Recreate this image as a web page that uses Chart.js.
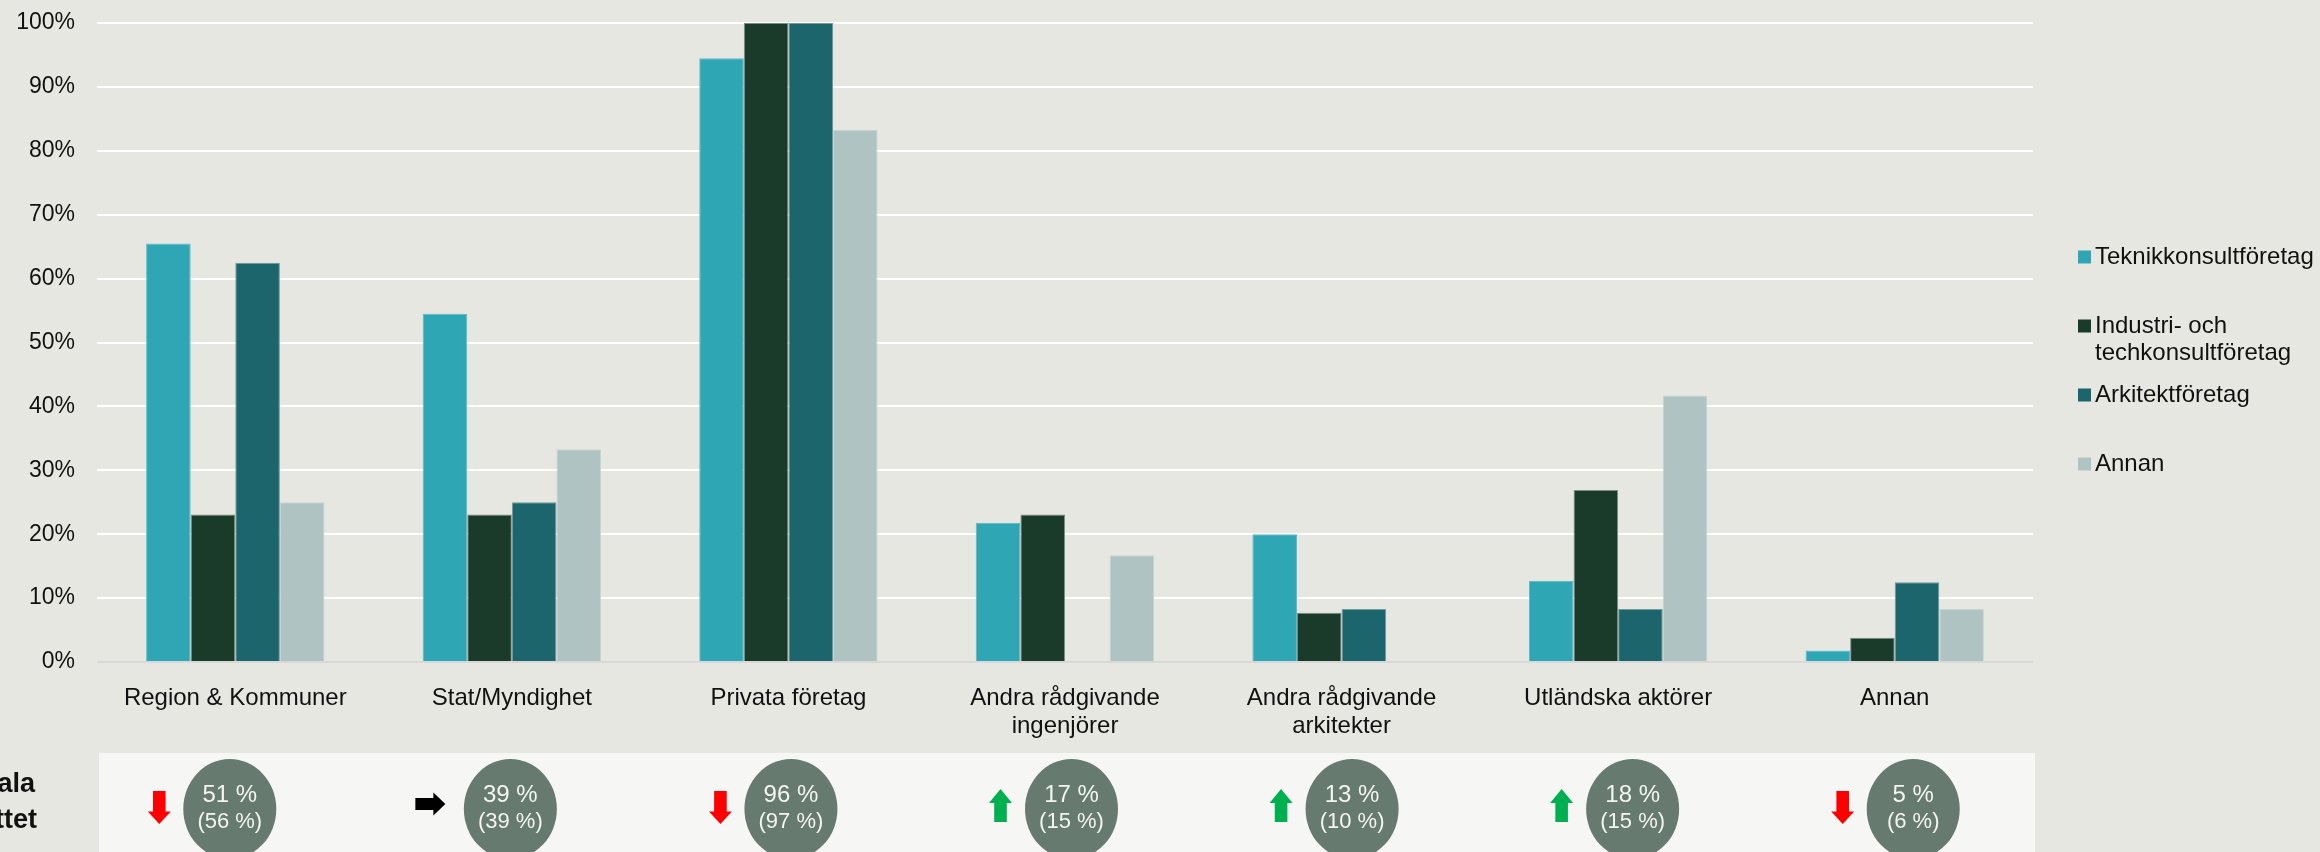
<!DOCTYPE html>
<html>
<head>
<meta charset="utf-8">
<script src="https://cdn.jsdelivr.net/npm/chart.js@4/dist/chart.umd.min.js"></script>
<style>
  html, body { margin: 0; padding: 0; background: #e7e7e2; }
  #wrap { width: 2320px; height: 852px; position: relative; }
</style>
</head>
<body>
<div id="wrap"><canvas id="chart"></canvas></div>
<script>
// Kategorier och värden (andel i procent)
const categories = ['Region & Kommuner', 'Stat/Myndighet', 'Privata företag',
    ['Andra rådgivande', 'ingenjörer'], ['Andra rådgivande', 'arkitekter'],
    'Utländska aktörer', 'Annan'];
const teknikkonsult = [65.5, 54.5, 94.5, 21.8, 20.0, 12.7, 1.8];
const industri = [23.1, 23.1, 100, 23.1, 7.7, 26.9, 3.8];
const arkitekt = [62.5, 25.0, 100, 0, 8.3, 8.3, 12.5];
const annan = [25.0, 33.3, 83.3, 16.7, 0, 41.7, 8.3];

const seriesNames = ['Teknikkonsultföretag', 'Industri- och techkonsultföretag', 'Arkitektföretag', 'Annan'];
const legendLines = [['Teknikkonsultföretag'], ['Industri- och', 'techkonsultföretag'], ['Arkitektföretag'], ['Annan']];
const seriesColors = ['#2ea6b4', '#1a3b29', '#1d656c', '#b0c3c3'];

// Totalt (förra året inom parentes)
const totalNow = [51, 39, 96, 17, 13, 18, 5];
const totalPrev = [56, 39, 97, 15, 10, 15, 6];
const trend = ['down', 'flat', 'down', 'up', 'up', 'up', 'down'];
const panelText = ['ala', 'ttet'];

const yTicks = [0, 10, 20, 30, 40, 50, 60, 70, 80, 90, 100];

const FONT = '"Liberation Sans", Arial, sans-serif';

// Bakgrund
const bgPlugin = {
    id: 'bg',
    beforeDraw(chart) {
        const ctx = chart.ctx;
        ctx.save();
        ctx.fillStyle = '#e7e7e2';
        ctx.fillRect(0, 0, chart.width, chart.height);
        ctx.restore();
    }
};

// Egen legend till höger
const legendPlugin = {
    id: 'sideLegend',
    afterDraw(chart) {
        const ctx = chart.ctx;
        const area = chart.chartArea;
        const x0 = area.right + 45;
        const y0 = area.top + 234;
        ctx.save();
        ctx.font = '24px ' + FONT;
        ctx.textBaseline = 'middle';
        ctx.textAlign = 'left';
        legendLines.forEach((lines, i) => {
            const y = y0 + i * 69;
            ctx.fillStyle = seriesColors[i];
            ctx.fillRect(x0, y - 6.5, 13, 13);
            ctx.fillStyle = '#111';
            lines.forEach((line, j) => {
                ctx.fillText(line, x0 + 17, y + j * 27);
            });
        });
        ctx.restore();
    }
};

function drawArrow(ctx, kind, cx, cy) {
    ctx.beginPath();
    if (kind === 'down') {
        ctx.fillStyle = '#ff0000';
        ctx.moveTo(cx - 6.3, cy - 16.5);
        ctx.lineTo(cx + 6.3, cy - 16.5);
        ctx.lineTo(cx + 6.3, cy + 4);
        ctx.lineTo(cx + 11.5, cy + 4);
        ctx.lineTo(cx, cy + 16.5);
        ctx.lineTo(cx - 11.5, cy + 4);
        ctx.lineTo(cx - 6.3, cy + 4);
    } else if (kind === 'up') {
        ctx.fillStyle = '#00b050';
        ctx.moveTo(cx - 6.3, cy + 16.5);
        ctx.lineTo(cx + 6.3, cy + 16.5);
        ctx.lineTo(cx + 6.3, cy - 2.5);
        ctx.lineTo(cx + 11.5, cy - 2.5);
        ctx.lineTo(cx, cy - 16.5);
        ctx.lineTo(cx - 11.5, cy - 2.5);
        ctx.lineTo(cx - 6.3, cy - 2.5);
    } else {
        ctx.fillStyle = '#000000';
        ctx.moveTo(cx - 15, cy - 6);
        ctx.lineTo(cx + 3, cy - 6);
        ctx.lineTo(cx + 3, cy - 11.5);
        ctx.lineTo(cx + 15, cy);
        ctx.lineTo(cx + 3, cy + 11.5);
        ctx.lineTo(cx + 3, cy + 6);
        ctx.lineTo(cx - 15, cy + 6);
    }
    ctx.closePath();
    ctx.fill();
}

// Panel med totalsiffror under diagrammet
const panelPlugin = {
    id: 'totals',
    afterDraw(chart) {
        const ctx = chart.ctx;
        const area = chart.chartArea;
        const xs = chart.scales.x;
        const top = 753;
        ctx.save();
        ctx.fillStyle = '#f6f6f4';
        ctx.fillRect(area.left + 2, top, area.right - area.left, chart.height - top);

        ctx.fillStyle = '#111';
        ctx.font = 'bold 27px ' + FONT;
        ctx.textAlign = 'right';
        ctx.textBaseline = 'middle';
        ctx.fillText(panelText[0], 35, 785);
        ctx.fillText(panelText[1], 37, 821);

        totalNow.forEach((v, i) => {
            const cx = xs.getPixelForValue(i) - 5.5 + 4 * i;
            const cy = 809;
            ctx.fillStyle = '#667a70';
            ctx.beginPath();
            ctx.ellipse(cx, cy, 46.5, 50, 0, 0, Math.PI * 2);
            ctx.fill();
            ctx.fillStyle = '#f4f4f0';
            ctx.textAlign = 'center';
            ctx.font = '24px ' + FONT;
            ctx.fillText(v + ' %', cx, 795);
            ctx.font = '22px ' + FONT;
            ctx.fillText('(' + totalPrev[i] + ' %)', cx, 822);
            const t = trend[i];
            if (t === 'flat') drawArrow(ctx, t, cx - 80, 804);
            else if (t === 'up') drawArrow(ctx, t, cx - 71, 805.5);
            else drawArrow(ctx, t, cx - 70.5, 807.5);
        });
        ctx.restore();
    }
};

const datasetValues = [teknikkonsult, industri, arkitekt, annan];
const borderColors = ['#5cbac5', '#7f8c84', '#6f9a9e', '#c8d4d4'];

const ctx = document.getElementById('chart').getContext('2d');
const chart = new Chart(ctx, {
    type: 'bar',
    data: {
        labels: categories,
        datasets: datasetValues.map((vals, i) => ({
            label: seriesNames[i],
            data: vals,
            backgroundColor: seriesColors[i],
            borderColor: borderColors[i],
            borderWidth: 1,
            categoryPercentage: 0.645,
            barPercentage: 1.0
        }))
    },
    options: {
        responsive: true,
        maintainAspectRatio: false,
        animation: false,
        devicePixelRatio: 1,
        layout: { padding: { top: 23, right: 287, left: 0, bottom: 0 } },
        plugins: {
            legend: { display: false },
            tooltip: { enabled: false }
        },
        scales: {
            x: {
                grid: { display: false },
                border: { display: false },
                ticks: {
                    color: '#111',
                    font: { family: FONT, size: 24, lineHeight: 1.15 },
                    padding: 15,
                    maxRotation: 0,
                    autoSkip: false
                },
                afterFit(scale) {
                    scale.height = 190;
                    scale.paddingLeft = 0;
                    scale.paddingRight = 0;
                }
            },
            y: {
                min: 0,
                max: 100,
                afterBuildTicks(scale) { scale.ticks = yTicks.map(v => ({ value: v })); },
                grid: {
                    color: c => (c.tick && c.tick.value === 0) ? '#d8d8d8' : '#ffffff',
                    lineWidth: 2,
                    drawTicks: false
                },
                border: { display: false },
                ticks: {
                    color: '#111',
                    font: { family: FONT, size: 23 },
                    padding: 22,
                    callback: v => v + '%'
                },
                afterFit(scale) {
                    scale.width = 97;
                    scale.paddingTop = 0;
                    scale.paddingBottom = 0;
                }
            }
        }
    },
    plugins: [bgPlugin, legendPlugin, panelPlugin]
});
</script>
</body>
</html>
